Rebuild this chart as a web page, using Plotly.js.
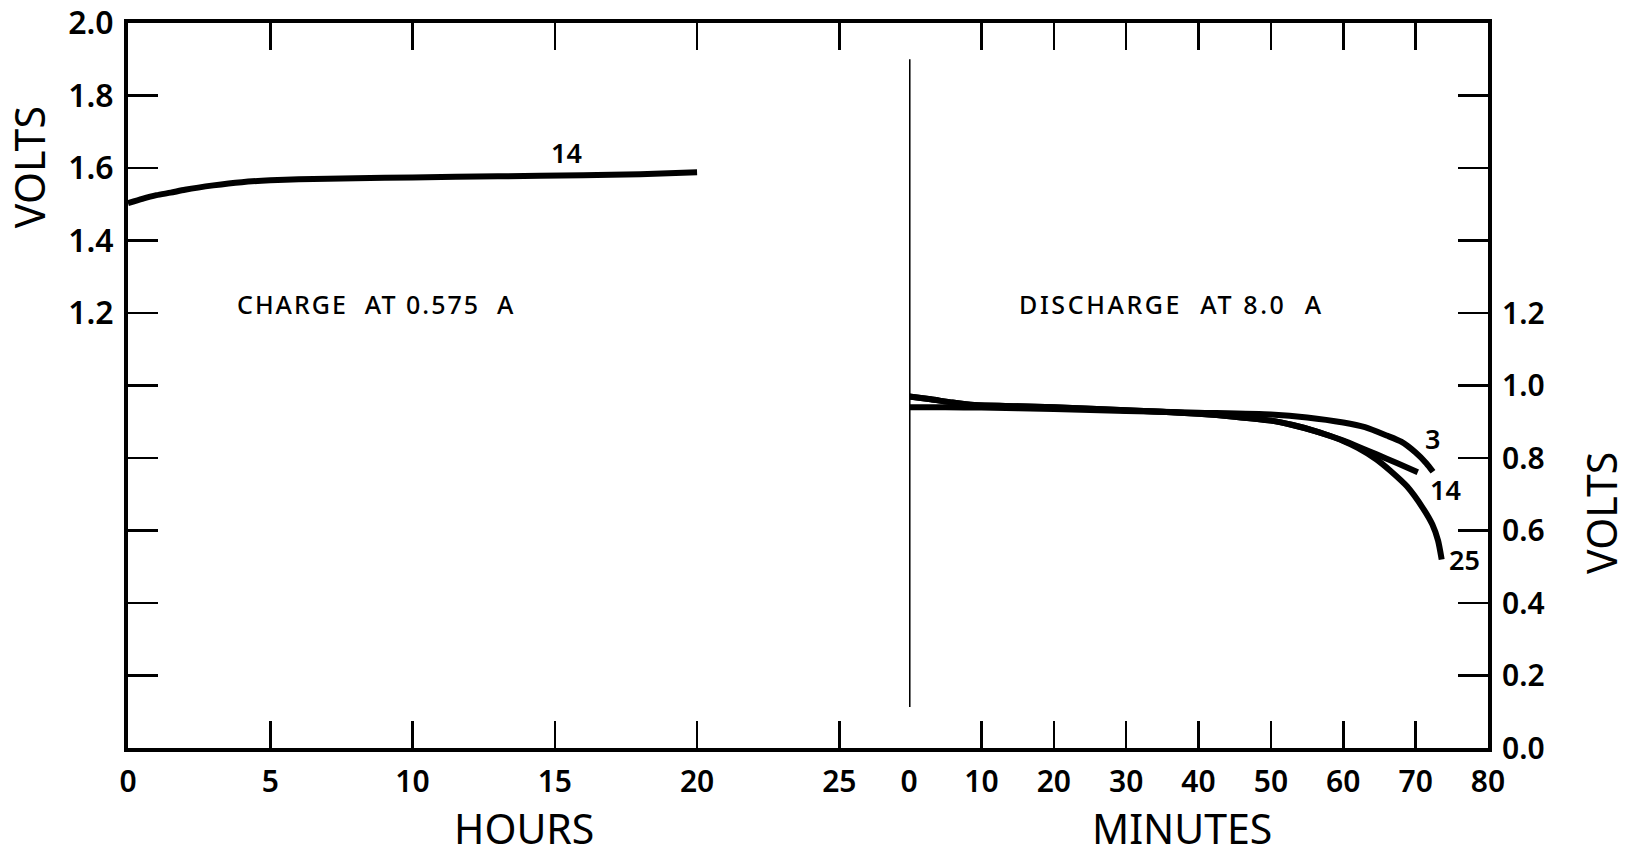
<!DOCTYPE html>
<html>
<head>
<meta charset="utf-8">
<script src="https://cdn.plot.ly/plotly-3.0.1.min.js"></script>
<style>
  html, body { margin: 0; padding: 0; background: #fff; }
  #chart { width: 1634px; height: 856px; }
</style>
</head>
<body>
<div id="chart"></div>
<script>
// ---- Data ----
// Charge at 0.575 A, cycle 14 (x in hours)
const chargeHours = [0, 0.5, 1, 1.5, 2, 3, 4, 5, 6, 8, 10, 13, 16, 18, 20];
const chargeVolts = [1.503, 1.515, 1.525, 1.532, 1.540, 1.552, 1.561, 1.566, 1.569, 1.572, 1.574, 1.577, 1.580, 1.583, 1.588];

// Discharge at 8.0 A (x in minutes)
const dis3Minutes = [0, 5, 10, 20, 30, 40, 50, 55, 60, 63, 66, 68, 70, 71.5, 72.4];
const dis3Volts   = [0.940, 0.940, 0.939, 0.935, 0.930, 0.925, 0.920, 0.912, 0.898, 0.885, 0.862, 0.845, 0.815, 0.785, 0.762];

const dis14Minutes = [0, 3, 6, 9, 15, 20, 30, 40, 45, 50, 53, 56, 58, 60, 62, 64.6, 67.4, 70.3];
const dis14Volts   = [0.970, 0.962, 0.953, 0.946, 0.943, 0.940, 0.932, 0.922, 0.914, 0.903, 0.891, 0.875, 0.862, 0.848, 0.832, 0.810, 0.786, 0.761];

const dis25Minutes = [0, 3, 6, 9, 15, 20, 30, 40, 45, 50, 53, 56, 58, 60, 62, 64.6, 66.5, 68.8, 71, 72.3, 73.1, 73.6];
const dis25Volts   = [0.970, 0.962, 0.953, 0.946, 0.943, 0.940, 0.932, 0.922, 0.914, 0.903, 0.891, 0.875, 0.862, 0.847, 0.828, 0.796, 0.765, 0.722, 0.662, 0.617, 0.572, 0.520];

// Axis ticks
const hourTicks = [0, 5, 10, 15, 20, 25];
const minuteTicks = [0, 10, 20, 30, 40, 50, 60, 70, 80];
const voltTicks = [0, 0.2, 0.4, 0.6, 0.8, 1.0, 1.2, 1.4, 1.6, 1.8, 2.0];
const leftVoltLabels  = ['', '', '', '', '', '', '1.2', '1.4', '1.6', '1.8', '2.0'];
const rightVoltLabels = ['0.0', '0.2', '0.4', '0.6', '0.8', '1.0', '1.2', '', '', '', ''];

// Curve labels
const chargeLabel = {text: '14', x: 15.4, y: 1.644};
const dischargeLabels = [
  {text: '3',  x: 72.3, y: 0.855},
  {text: '14', x: 74.1, y: 0.712},
  {text: '25', x: 76.7, y: 0.519}
];

// ---- Chart ----
const FONT = '"Noto Sans", "DejaVu Sans", sans-serif';
const lineStyle = {color: '#000', width: 6, shape: 'spline', smoothing: 0.6};

const traces = [
  {x: chargeHours, y: chargeVolts, xaxis: 'x', yaxis: 'y', mode: 'lines', line: lineStyle, name: 'Charge 14'},
  {x: dis3Minutes, y: dis3Volts, xaxis: 'x2', yaxis: 'y2', mode: 'lines', line: lineStyle, name: 'Discharge 3'},
  {x: dis14Minutes, y: dis14Volts, xaxis: 'x2', yaxis: 'y2', mode: 'lines', line: lineStyle, name: 'Discharge 14'},
  {x: dis25Minutes, y: dis25Volts, xaxis: 'x2', yaxis: 'y2', mode: 'lines', line: lineStyle, name: 'Discharge 25'}
];

const split = 0.5743;
const xTickFont = {family: FONT, size: 30, color: '#000', weight: 600};
const leftTickFont = {family: FONT, size: 32, color: '#000', weight: 600};
const rightTickFont = {family: FONT, size: 30, color: '#000', weight: 600};
const titleFont = {family: FONT, size: 41, color: '#000'};
const noteFont = {family: FONT, size: 25, color: '#000', weight: 500};
const curveFont = {family: FONT, size: 27, color: '#000', weight: 600};

const annotations = [
  {text: 'VOLTS', xref: 'paper', yref: 'paper', x: -0.0728, y: 0.801, xanchor: 'center', yanchor: 'middle',
   textangle: -90, showarrow: false, font: titleFont},
  {text: 'VOLTS', xref: 'paper', yref: 'paper', x: 1.0830, y: 0.324, xanchor: 'center', yanchor: 'middle',
   textangle: -90, showarrow: false, font: titleFont},
  {text: 'HOURS', xref: 'paper', yref: 'paper', x: (524 - 128) / 1360, y: -(828 - 748) / 725,
   xanchor: 'center', yanchor: 'middle', showarrow: false, font: titleFont},
  {text: 'MINUTES', xref: 'paper', yref: 'paper', x: (1182 - 128) / 1360, y: -(828 - 748) / 725,
   xanchor: 'center', yanchor: 'middle', showarrow: false, font: titleFont},
  {text: '<span style="letter-spacing:2px">CHARGE\u00A0\u00A0AT\u00A00.575\u00A0\u00A0A</span>',
   xref: 'x', yref: 'y', x: 8.72, y: 1.225, xanchor: 'center', yanchor: 'middle', showarrow: false, font: noteFont},
  {text: '<span style="letter-spacing:2.6px">DISCHARGE\u00A0\u00A0AT\u00A08.0\u00A0\u00A0A</span>',
   xref: 'x2', yref: 'y2', x: 36.2, y: 1.225, xanchor: 'center', yanchor: 'middle', showarrow: false, font: noteFont},
  {text: chargeLabel.text, xref: 'x', yref: 'y', x: chargeLabel.x, y: chargeLabel.y,
   xanchor: 'center', yanchor: 'middle', showarrow: false, font: curveFont}
].concat(dischargeLabels.map(l => ({
  text: l.text, xref: 'x2', yref: 'y2', x: l.x, y: l.y, xanchor: 'center', yanchor: 'middle',
  showarrow: false, font: curveFont
})));

const commonX = {
  ticks: 'inside', ticklen: 27, tickwidth: 2.5, tickcolor: '#000',
  showline: true, linewidth: 4, linecolor: '#000', mirror: 'ticks',
  showgrid: false, zeroline: false, tickfont: xTickFont, ticklabelstandoff: 4
};
const commonY = {
  domain: [0, 1], range: [0, 2.0], tickvals: voltTicks,
  ticks: 'inside', ticklen: 30, tickwidth: 2.5, tickcolor: '#000',
  showline: true, linewidth: 4, linecolor: '#000',
  showgrid: false, zeroline: false
};

const layout = {
  width: 1634, height: 856,
  margin: {l: 128, r: 146, t: 23, b: 108, pad: 0},
  paper_bgcolor: '#fff', plot_bgcolor: '#fff',
  showlegend: false,
  font: {family: FONT, color: '#000'},
  xaxis: Object.assign({
    domain: [0, split], range: [0, 27.45], anchor: 'y',
    tickvals: hourTicks, ticktext: hourTicks.map(String)
  }, commonX),
  xaxis2: Object.assign({
    domain: [split, 1], range: [0, 80], anchor: 'y2',
    tickvals: minuteTicks, ticktext: minuteTicks.map(String)
  }, commonX),
  yaxis: Object.assign({
    anchor: 'x', side: 'left', ticktext: leftVoltLabels, ticklabelstandoff: 4, tickfont: leftTickFont
  }, commonY),
  yaxis2: Object.assign({
    anchor: 'x2', side: 'right', ticktext: rightVoltLabels, ticklabelstandoff: 4, tickfont: rightTickFont
  }, commonY),
  shapes: [
    {type: 'line', xref: 'x2', yref: 'y2', x0: 0, x1: 0, y0: 0.113, y1: 1.90,
     line: {color: '#000', width: 3}}
  ],
  annotations: annotations
};

Plotly.newPlot('chart', traces, layout, {displayModeBar: false, staticPlot: true});
</script>
</body>
</html>
